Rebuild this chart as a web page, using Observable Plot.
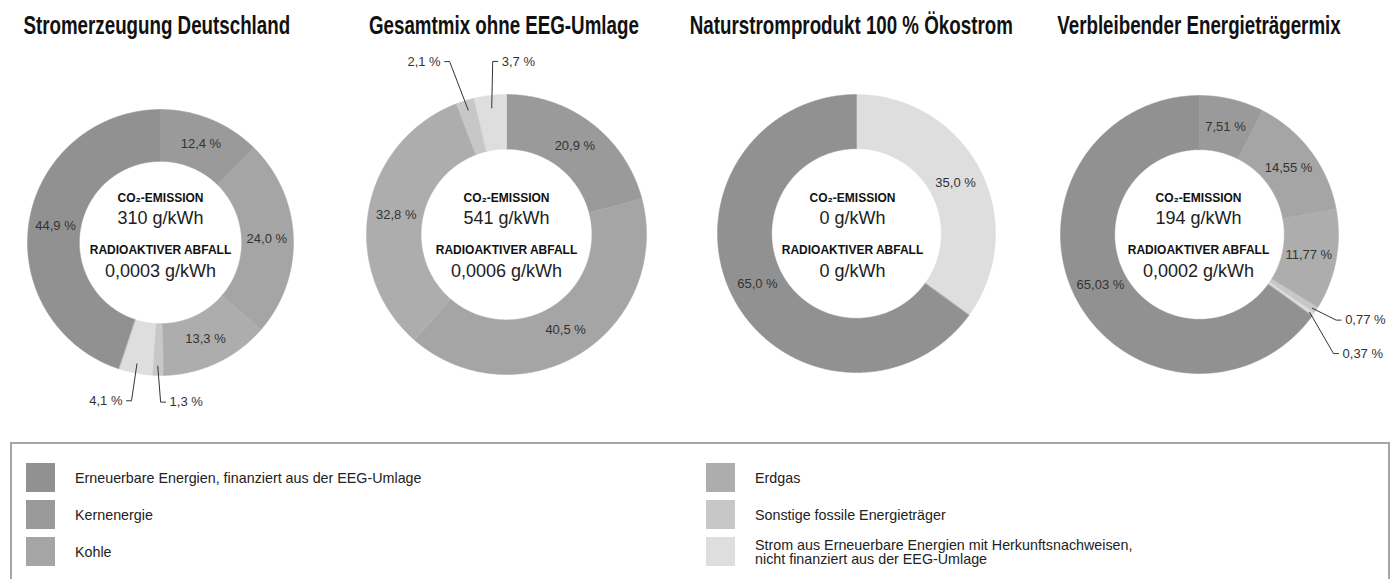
<!DOCTYPE html>
<html><head><meta charset="utf-8">
<script src="https://cdn.jsdelivr.net/npm/d3@7"></script>
<script src="https://cdn.jsdelivr.net/npm/@observablehq/plot@0.6"></script>
<style>
body{margin:0;background:#fff;font-family:"Liberation Sans",Arial,sans-serif;}
#titles{position:absolute;left:-17px;top:13px;display:flex;z-index:2;}
#titles div{width:347.5px;display:flex;justify-content:center;font:bold 25px/25px "Liberation Sans",Arial,sans-serif;color:#111;white-space:nowrap;}
#titles span{display:inline-block;flex:none;transform:scaleX(0.75);transform-origin:center;}
#chart{position:absolute;left:0;top:0;width:1399px;height:430px;}
#legend{position:absolute;left:10px;top:442px;width:1380px;height:170px;border:2px solid #a5a5a5;box-sizing:border-box;}
.col{position:absolute;top:19px;}
.row{position:relative;height:29px;margin-bottom:8px;}
.sw{position:absolute;left:0;top:0;width:29px;height:29px;}
.lab{position:absolute;left:49px;top:50%;transform:translateY(-50%);white-space:pre;font-family:"Liberation Sans",Arial,sans-serif;font-size:14.3px;line-height:14px;color:#222;}
</style></head>
<body>
<div id="chart"></div>
<div id="titles"></div>
<div id="legend"></div>
<script>
// ---- data ----
const titles = ["Stromerzeugung Deutschland", "Gesamtmix ohne EEG-Umlage", "Naturstromprodukt 100 % Ökostrom", "Verbleibender Energieträgermix"];
const categories = [
  "Erneuerbare Energien, finanziert aus der EEG-Umlage",
  "Kernenergie",
  "Kohle",
  "Erdgas",
  "Sonstige fossile Energieträger",
  "Strom aus Erneuerbare Energien mit Herkunftsnachweisen, nicht finanziert aus der EEG-Umlage"
];
const legendLabels = [
  "Erneuerbare Energien, finanziert aus der EEG-Umlage",
  "Kernenergie",
  "Kohle",
  "Erdgas",
  "Sonstige fossile Energieträger",
  "Strom aus Erneuerbare Energien mit Herkunftsnachweisen,\nnicht finanziert aus der EEG-Umlage"
];
// values in category order
const stromerzeugung = [44.9, 12.4, 24.0, 13.3, 1.3, 4.1];
const gesamtmix      = [0, 20.9, 40.5, 32.8, 2.1, 3.7];
const naturstrom     = [65.0, 0, 0, 0, 0, 35.0];
const verbleibend    = [65.03, 7.51, 14.55, 11.77, 0.77, 0.37];
const decimals = [1, 1, 1, 2];
const co2Values   = ["310 g/kWh", "541 g/kWh", "0 g/kWh", "194 g/kWh"];
const wasteValues = ["0,0003 g/kWh", "0,0006 g/kWh", "0 g/kWh", "0,0002 g/kWh"];

// ---- styles / layout ----
const colors = ["#919191", "#9a9a9a", "#a5a5a5", "#adadad", "#c7c7c7", "#dedede"];
const sliceOrder = [1, 2, 3, 4, 5, 0]; // clockwise from 12 o'clock
const R  = [133, 140, 139, 139];
const CX = [0, 0, 4, 1];
const CY = [-8, 0, 1, 0];
const INNER = 0.61, LABEL_R = 0.80, FOOT = 5, GAP = 4;
const outsideLayout = [
  {c: 0, k: 5, r0: 0.93, r1: 1.21, da: -0.6, side: -1},
  {c: 0, k: 4, r0: 0.93, r1: 1.20, da: -1.3, side: 1},
  {c: 1, k: 4, r0: 0.93, r1: 1.30, da: -1.1, side: -1},
  {c: 1, k: 5, r0: 0.91, r1: 1.24, da: 2.1, side: 1},
  {c: 3, k: 4, r0: 0.97, r1: 1.16, da: -1.1, side: 1},
  {c: 3, k: 5, r0: 0.97, r1: 1.29, da: 6.4, side: 1}
];

const series = [stromerzeugung, gesamtmix, naturstrom, verbleibend];
const fmt = (v, d) => v.toFixed(d).replace(".", ",") + " %";
const slices = [];
series.forEach((vals, c) => {
  let acc = 0;
  for (const k of sliceOrder) {
    const v = vals[k];
    if (v > 0) slices.push({c, k, v, a0: acc / 100 * 2 * Math.PI, a1: (acc + v) / 100 * 2 * Math.PI});
    acc += v;
  }
});
const pol = (c, r, a) => ({x: CX[c] + r * Math.sin(a), y: CY[c] + r * Math.cos(a)});
const ring = [];
for (const s of slices) {
  const n = Math.max(2, Math.ceil((s.a1 - s.a0) / (Math.PI / 360)));
  const id = s.c + "-" + s.k;
  const base = {chart: titles[s.c], cat: categories[s.k], id};
  for (let i = 0; i <= n; i++) ring.push({...base, ...pol(s.c, R[s.c], s.a0 + (s.a1 - s.a0) * i / n)});
  for (let i = n; i >= 0; i--) ring.push({...base, ...pol(s.c, R[s.c] * INNER, s.a0 + (s.a1 - s.a0) * i / n)});
}
const isOutside = (s) => outsideLayout.some(o => o.c === s.c && o.k === s.k);
const inside = slices.filter(s => !isOutside(s)).map(s => ({
  chart: titles[s.c], text: fmt(s.v, decimals[s.c]), ...pol(s.c, R[s.c] * LABEL_R, (s.a0 + s.a1) / 2)
}));
const leaders = [], outLabels = [];
for (const o of outsideLayout) {
  const s = slices.find(d => d.c === o.c && d.k === o.k);
  const mid = (s.a0 + s.a1) / 2;
  const p0 = pol(o.c, R[o.c] * o.r0, mid);
  const p1 = pol(o.c, R[o.c] * o.r1, mid + o.da * Math.PI / 180);
  const p2 = {x: p1.x + o.side * FOOT, y: p1.y};
  const id = o.c + "-" + o.k;
  [p0, p1, p2].forEach(p => leaders.push({chart: titles[o.c], id, ...p}));
  outLabels.push({chart: titles[o.c], side: o.side, text: fmt(s.v, decimals[o.c]), x: p2.x + o.side * GAP, y: p1.y});
}
const centers = titles.map((t, i) => ({chart: t, co2: co2Values[i], waste: wasteValues[i]}));

const chart = Plot.plot({
  width: 1399, height: 430,
  marginTop: 45, marginBottom: 0, marginLeft: 0, marginRight: 15,
  fx: {domain: titles, padding: 0, label: null, axis: null},
  x: {domain: [-160, 186], axis: null},
  y: {domain: [-196, 189], axis: null},
  color: {domain: categories, range: colors},
  style: {fontFamily: "Liberation Sans, Arial, sans-serif", background: "white", overflow: "visible"},
  marks: [
    Plot.line(ring, {fx: "chart", x: "x", y: "y", z: "id", fill: "cat", stroke: "cat", strokeWidth: 0.5, curve: "linear-closed"}),
    Plot.text(inside, {fx: "chart", x: "x", y: "y", text: "text", fontSize: 13, fill: "#333"}),
    Plot.line(leaders, {fx: "chart", x: "x", y: "y", z: "id", stroke: "#333", strokeWidth: 1}),
    Plot.text(outLabels.filter(d => d.side < 0), {fx: "chart", x: "x", y: "y", text: "text", textAnchor: "end", fontSize: 13, fill: "#333"}),
    Plot.text(outLabels.filter(d => d.side > 0), {fx: "chart", x: "x", y: "y", text: "text", textAnchor: "start", fontSize: 13, fill: "#333"}),
    Plot.text(centers, {fx: "chart", x: () => 0, y: () => 0, text: () => "CO₂-EMISSION", dy: -36, fontSize: 12, fontWeight: "bold", fill: "#111"}),
    Plot.text(centers, {fx: "chart", x: () => 0, y: () => 0, text: "co2", dy: -16, fontSize: 18, fill: "#222"}),
    Plot.text(centers, {fx: "chart", x: () => 0, y: () => 0, text: () => "RADIOAKTIVER ABFALL", dy: 16, fontSize: 12, fontWeight: "bold", fill: "#111"}),
    Plot.text(centers, {fx: "chart", x: () => 0, y: () => 0, text: "waste", dy: 37, fontSize: 18, fill: "#222"})
  ]
});
document.getElementById("chart").appendChild(chart);

// titles
const tdiv = document.getElementById("titles");
titles.forEach(t => {
  const d = document.createElement("div");
  const s = document.createElement("span");
  s.textContent = t;
  d.appendChild(s);
  tdiv.appendChild(d);
});

// legend
const legend = document.getElementById("legend");
const cols = [[0, 1, 2], [3, 4, 5]];
const colLeft = [14, 694];
cols.forEach((idx, ci) => {
  const col = document.createElement("div");
  col.className = "col";
  col.style.left = colLeft[ci] + "px";
  idx.forEach(i => {
    const row = document.createElement("div");
    row.className = "row";
    const sw = document.createElement("div");
    sw.className = "sw";
    sw.style.background = colors[i];
    const lab = document.createElement("div");
    lab.className = "lab";
    lab.textContent = legendLabels[i];
    row.appendChild(sw); row.appendChild(lab);
    col.appendChild(row);
  });
  legend.appendChild(col);
});
</script>
</body></html>
